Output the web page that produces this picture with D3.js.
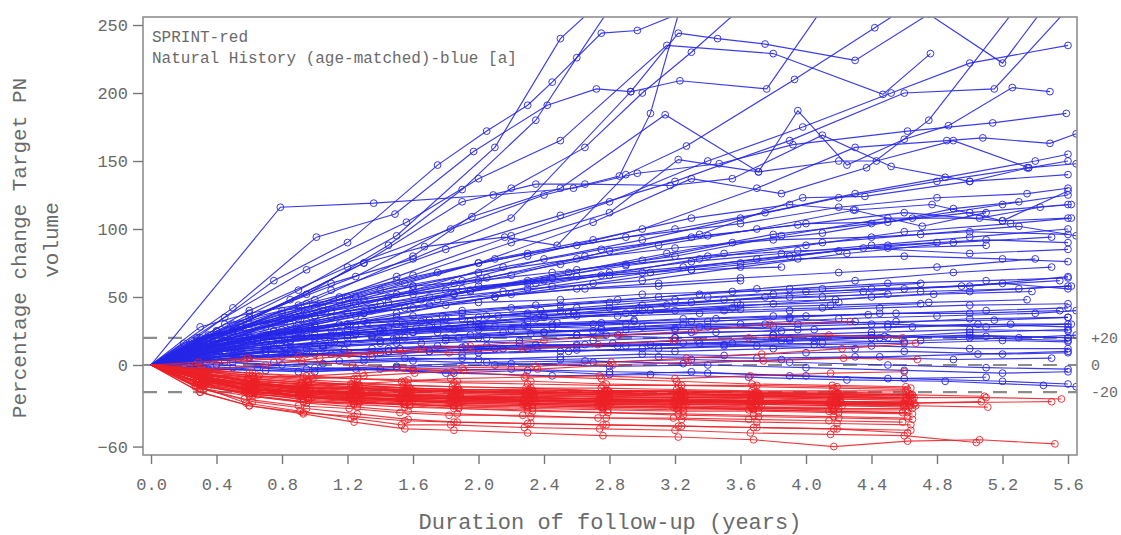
<!DOCTYPE html>
<html><head><meta charset="utf-8">
<script src="https://cdn.jsdelivr.net/npm/d3@7"></script>
<style>
body{margin:0;background:#fff}
text{font-family:"Liberation Mono","Courier New",monospace;fill:#6a6a6a}
</style>
</head><body>
<svg id="c" width="1121" height="535"></svg>
<script>
// ---------- tick labels ----------
const xTicks = [0,0.4,0.8,1.2,1.6,2.0,2.4,2.8,3.2,3.6,4.0,4.4,4.8,5.2,5.6];
const yTicks = [250,200,150,100,50,0,-60];
const refValues = [20,0,-20];
const refLabels = ["+20","0","-20"];
const legendLines = ["SPRINT-red","Natural History (age-matched)-blue [a]"];

// ---------- Natural history (blue): fast growers ----------
const blueFast = [
 [[0,0],[0.28,20],[0.75,62],[1.2,90],[1.75,147],[2.05,172],[2.3,191],[2.45,208],[2.75,244],[2.97,246],[3.3,262]],
 [[0,0],[0.5,42],[1.01,94],[1.49,111],[1.97,157],[2.42,191],[2.72,203],[2.93,201],[3.22,244],[3.46,240],[3.75,236],[4.3,224],[4.75,258],[5.2,222],[5.45,262]],
 [[0,0],[0.79,116],[1.36,119],[2.09,125],[2.58,130],[2.97,141],[3.47,148],[3.92,162],[4.62,172],[5.14,178],[5.59,185]],
 [[0,0],[0.6,40],[1.2,72],[1.83,100],[2.4,125],[2.86,139],[3.05,185],[3.23,262]],
 [[0,0],[0.45,35],[0.95,70],[1.56,105],[2.0,137],[2.5,165],[3.15,235],[3.8,229],[4.47,199],[4.76,229]],
 [[0,0],[0.4,25],[0.9,55],[1.5,95],[2.1,160],[2.5,240],[2.7,262]],
 [[0,0],[0.3,15],[0.85,48],[1.3,75],[1.67,87],[2.16,94],[2.48,88],[2.9,140],[3.27,161],[3.93,210],[4.42,248],[4.6,262]],
 [[0,0],[0.5,30],[1.1,60],[1.6,78],[2.2,108],[2.93,201],[3.23,209],[3.76,203],[4.1,262]],
 [[0,0],[0.6,35],[1.25,65],[1.96,109],[2.5,130],[3.14,184],[3.71,142],[3.95,187],[4.25,147],[4.6,166],[4.87,176],[5.26,204],[5.49,201]],
 [[0,0],[0.35,18],[0.9,40],[1.5,65],[2.2,95],[2.8,120],[3.4,150],[3.98,175],[4.52,200],[5.0,222],[5.6,235]],
 [[0,0],[0.45,22],[1.1,55],[1.8,85],[2.5,110],[3.2,135],[3.9,165],[4.6,200],[5.15,203],[5.6,262]],
 [[0,0],[0.3,12],[0.9,30],[1.6,55],[2.3,80],[3.0,100],[3.7,130],[4.3,160],[4.86,165],[5.08,167],[5.49,163],[5.65,170]],
 [[0,0],[0.5,25],[1.2,50],[2.0,75],[2.7,105],[3.3,137],[3.85,126],[4.37,145],[4.75,180],[5.28,262]],
 [[0,0],[0.4,22],[1.0,48],[1.6,80],[2.2,130],[2.65,160],[3.0,200],[3.3,230],[3.6,262]],
 [[0,0],[0.55,30],[1.3,75],[1.9,120],[2.35,133],[2.65,133],[3.17,132],[3.55,137],[4.1,169],[4.52,146],[5.0,135],[5.36,145]],
 [[0,0],[0.35,20],[0.95,52],[1.45,88],[1.9,129],[2.35,180],[2.6,226],[2.8,262]]
];

// ---------- Natural history (blue): intermediate growers ----------
const blueMid = [
 [[0,0],[0.35,15],[0.8,32],[1.3,48],[1.9,62],[2.4,78],[3.0,92],[3.6,108],[4.2,123],[4.8,135],[5.35,145],[5.65,148]],
 [[0,0],[0.25,10],[0.7,28],[1.25,45],[1.85,60],[2.5,74],[3.1,88],[3.7,100],[4.3,114],[4.77,118],[5.2,106],[5.6,128]],
 [[0,0],[0.5,22],[1.05,40],[1.6,52],[2.2,66],[2.8,84],[3.35,96],[3.98,123],[4.36,124],[5.0,135],[5.6,140]],
 [[0,0],[0.3,12],[0.75,25],[1.3,38],[1.95,55],[2.6,70],[3.2,80],[3.85,95],[4.5,108],[5.06,108],[5.43,116],[5.62,118]],
 [[0,0],[0.4,18],[0.95,38],[1.55,60],[2.1,78],[2.7,92],[3.3,108],[3.9,118],[4.29,114],[4.71,102],[5.1,112]],
 [[0,0],[0.2,8],[0.6,20],[1.1,35],[1.7,50],[2.3,62],[2.9,73],[3.5,82],[4.1,90],[4.7,96],[5.3,102],[5.65,95]],
 [[0,0],[0.45,20],[1.0,42],[1.6,66],[2.2,90],[2.8,112],[3.22,151],[3.71,142],[4.2,150],[4.43,150],[4.9,165],[5.36,145],[5.6,150]],
 [[0,0],[0.3,14],[0.85,30],[1.4,45],[2.0,58],[2.6,65],[3.25,72],[3.9,80],[4.5,88],[5.1,92],[5.6,90]],
 [[0,0],[0.55,28],[1.15,50],[1.75,68],[2.3,82],[2.9,94],[3.6,104],[4.2,116],[4.8,123],[5.35,126],[5.6,130]],
 [[0,0],[0.35,15],[0.9,34],[1.45,50],[2.05,64],[2.65,80],[3.3,94],[3.95,103],[4.6,112],[5.2,106],[5.6,108]],
 [[0,0],[0.25,6],[0.65,18],[1.2,30],[1.8,44],[2.45,58],[3.05,68],[3.7,78],[4.35,86],[5.0,82],[5.6,85]],
 [[0,0],[0.4,20],[1.0,36],[1.65,48],[2.3,56],[3.0,62],[3.6,72],[4.25,82],[4.9,90],[5.5,94]],
 [[0,0],[0.3,10],[0.8,26],[1.35,40],[1.95,54],[2.55,68],[3.15,82],[3.8,96],[4.4,104],[5.0,112],[5.6,118]],
 [[0,0],[0.5,25],[1.05,42],[1.6,58],[2.15,72],[2.75,85],[3.4,95],[4.0,104],[4.5,105],[4.9,115],[5.3,120]],
 [[0,0],[0.35,12],[0.9,26],[1.5,38],[2.1,50],[2.7,60],[3.3,70],[3.95,78],[4.6,80],[5.2,78],[5.6,76]],
 [[0,0],[0.6,30],[1.2,45],[1.8,55],[2.4,62],[3.0,68],[3.6,75],[4.2,84],[4.8,90]],
 [[0,0],[0.28,8],[0.7,22],[1.25,36],[1.85,52],[2.45,64],[3.0,77],[3.55,90],[4.1,97],[4.65,108],[5.2,118],[5.6,125]],
 [[0,0],[0.45,16],[1.0,30],[1.55,42],[2.15,54],[2.75,66],[3.35,78],[4.0,88],[4.6,98],[5.25,104],[5.62,108]],
 [[0,0],[0.4,25],[0.95,45],[1.5,62],[2.0,75],[2.6,88],[3.2,100],[3.75,112],[4.3,126],[4.85,138],[5.4,150],[5.6,155]],
 [[0,0],[0.3,18],[0.8,38],[1.4,55],[2.0,68],[2.6,78],[3.2,86],[3.8,92],[4.4,94],[5.0,98],[5.6,96]]
];

// ---------- Natural history (blue): slow growers / stable ----------
const blueSlow = [
 [[0,0],[0.3,10],[0.8,18],[1.4,25],[2.0,30],[2.6,36],[3.2,40],[3.8,45],[4.4,50],[5.0,54],[5.6,58]],
 [[0,0],[0.25,5],[0.7,12],[1.2,16],[1.8,20],[2.4,24],[3.0,28],[3.6,30],[4.2,34],[4.8,36],[5.4,38],[5.65,40]],
 [[0,0],[0.4,14],[0.95,22],[1.55,26],[2.1,28],[2.7,30],[3.3,32],[3.9,34],[4.5,30],[5.1,28],[5.6,30]],
 [[0,0],[0.2,3],[0.6,6],[1.1,8],[1.7,10],[2.3,12],[2.9,14],[3.5,15],[4.1,16],[4.7,18],[5.3,20],[5.65,22]],
 [[0,0],[0.35,8],[0.85,10],[1.45,12],[2.05,14],[2.65,15],[3.25,16],[3.85,18],[4.45,20],[5.0,22],[5.6,20]],
 [[0,0],[0.3,4],[0.75,2],[1.3,3],[1.9,5],[2.5,4],[3.1,6],[3.7,5],[4.3,6],[4.9,4],[5.5,5]],
 [[0,0],[0.45,2],[1.0,-2],[1.6,-4],[2.2,-3],[2.8,-5],[3.4,-6],[4.0,-8],[4.6,-10],[5.2,-12],[5.6,-14]],
 [[0,0],[0.3,6],[0.8,14],[1.35,22],[1.95,30],[2.55,38],[3.15,44],[3.75,50],[4.35,54],[4.95,58],[5.55,62]],
 [[0,0],[0.25,10],[0.65,18],[1.15,24],[1.75,30],[2.35,34],[2.95,38],[3.55,42],[4.15,44],[4.75,46],[5.35,48]],
 [[0,0],[0.5,8],[1.05,14],[1.65,16],[2.25,18],[2.85,22],[3.45,24],[4.05,26],[4.65,28],[5.25,30],[5.62,30]],
 [[0,0],[0.35,-3],[0.9,-5],[1.5,-2],[2.1,0],[2.7,2],[3.3,4],[3.9,2],[4.5,0],[5.1,-2],[5.6,-3]],
 [[0,0],[0.4,12],[0.9,20],[1.45,28],[2.0,35],[2.6,42],[3.2,48],[3.8,52],[4.4,56],[5.0,58],[5.6,65]],
 [[0,0],[0.3,5],[0.8,8],[1.35,6],[1.9,8],[2.5,10],[3.1,12],[3.7,14],[4.3,12]],
 [[0,0],[0.55,15],[1.1,22],[1.7,28],[2.3,32],[2.9,38],[3.5,40],[4.1,42],[4.7,45]],
 [[0,0],[0.2,6],[0.55,12],[1.0,16],[1.55,20],[2.15,24],[2.75,26],[3.35,28],[3.95,30],[4.55,32],[5.15,33],[5.6,35]],
 [[0,0],[0.4,0],[0.95,-3],[1.5,-1],[2.05,2],[2.65,3],[3.25,1],[3.85,4],[4.45,6],[5.05,8],[5.6,10]],
 [[0,0],[0.3,16],[0.75,25],[1.3,32],[1.9,38],[2.5,44],[3.1,50],[3.7,56],[4.3,62],[4.9,68],[5.5,72]],
 [[0,0],[0.35,9],[0.85,15],[1.4,18],[2.0,20],[2.6,22],[3.2,20],[3.8,22],[4.4,24],[5.0,26],[5.6,25]],
 [[0,0],[0.25,-2],[0.7,-4],[1.25,-3],[1.85,-6],[2.45,-8],[3.05,-7],[3.65,-9],[4.25,-11],[4.85,-12],[5.45,-15],[5.65,-16]],
 [[0,0],[0.45,18],[1.0,28],[1.6,36],[2.2,42],[2.8,46],[3.4,50],[4.0,54],[4.6,56],[5.2,60],[5.6,56]],
 [[0,0],[0.3,3],[0.8,6],[1.4,9],[2.0,12],[2.6,15],[3.2,18],[3.8,20],[4.4,22],[5.0,20],[5.6,18]],
 [[0,0],[0.6,20],[1.2,30],[1.8,34],[2.4,36],[3.0,40],[3.6,44],[4.2,46]],
 [[0,0],[0.35,4],[0.9,8],[1.45,10],[2.0,9],[2.6,11],[3.2,10],[3.8,12],[4.4,14],[5.0,12],[5.6,12]],
 [[0,0],[0.5,-2],[1.05,1],[1.6,3],[2.2,1],[2.8,-1],[3.4,0],[4.0,-2],[4.6,-4],[5.2,-6],[5.6,-5]],
 [[0,0],[0.28,12],[0.72,22],[1.22,30],[1.78,36],[2.38,40],[2.98,42],[3.58,46],[4.18,48],[4.78,52],[5.38,54]],
 [[0,0],[0.4,6],[0.95,12],[1.5,16],[2.05,20],[2.6,22],[3.2,26],[3.8,28],[4.4,30],[5.0,34],[5.6,35]]
];

// ---------- Natural history (blue): frequently measured, low change ----------
const blueDense = [
 [[0,0],[0.22,8],[0.5,14],[0.78,20],[1.1,26],[1.5,30],[1.9,34],[2.3,38],[2.8,42],[3.3,46],[3.9,50],[4.5,52]],
 [[0,0],[0.3,20],[0.6,26],[0.95,32],[1.3,38],[1.7,44],[2.1,50],[2.6,56],[3.1,60],[3.6,64],[4.2,68],[4.8,72],[5.4,78]],
 [[0,0],[0.2,4],[0.45,10],[0.75,12],[1.05,14],[1.4,16],[1.8,18],[2.25,16],[2.7,18],[3.2,20],[3.8,22],[4.4,20],[5.0,24],[5.6,26]],
 [[0,0],[0.35,22],[0.65,30],[1.0,36],[1.35,42],[1.75,48],[2.2,52],[2.65,56],[3.1,58],[3.6,62]],
 [[0,0],[0.25,12],[0.55,18],[0.9,24],[1.25,28],[1.65,32],[2.05,36],[2.5,40],[3.0,44],[3.5,48],[4.1,50],[4.7,54],[5.3,56],[5.62,58]],
 [[0,0],[0.4,6],[0.7,10],[1.0,8],[1.35,12],[1.75,14],[2.15,12],[2.6,14],[3.05,15],[3.55,16],[4.05,18],[4.6,17]],
 [[0,0],[0.3,28],[0.6,38],[0.9,44],[1.25,50],[1.6,58],[2.0,62],[2.45,68],[2.9,74],[3.4,80],[3.95,84],[4.5,86],[5.1,88]],
 [[0,0],[0.2,-2],[0.5,2],[0.8,0],[1.15,3],[1.55,5],[2.0,4],[2.5,6],[3.0,8],[3.5,7],[4.0,9],[4.6,10],[5.2,8],[5.6,9]],
 [[0,0],[0.28,15],[0.58,20],[0.88,24],[1.2,26],[1.55,30],[1.95,32],[2.4,35],[2.85,36],[3.35,38],[3.9,40],[4.45,42],[5.0,44],[5.6,45]],
 [[0,0],[0.45,30],[0.8,40],[1.15,46],[1.5,52],[1.9,56],[2.35,60],[2.8,66],[3.3,70],[3.85,72]],
 [[0,0],[0.25,8],[0.55,12],[0.85,18],[1.2,22],[1.6,24],[2.0,28],[2.45,30],[2.95,32],[3.45,34],[4.0,36],[4.55,38],[5.1,40],[5.6,42]],
 [[0,0],[0.35,-4],[0.65,-2],[1.0,-5],[1.4,-3],[1.8,-6],[2.3,-4],[2.8,-7],[3.3,-5],[3.9,-8],[4.5,-10],[5.1,-9]],
 [[0,0],[0.3,12],[0.65,18],[1.0,22],[1.4,25],[1.85,26],[2.3,28],[2.75,27],[3.25,30],[3.75,30],[4.3,32]],
 [[0,0],[0.2,16],[0.5,25],[0.8,34],[1.1,40],[1.45,46],[1.85,52],[2.3,60],[2.8,68],[3.3,76],[3.85,82],[4.4,88],[5.0,94],[5.6,100]],
 [[0,0],[0.4,10],[0.75,14],[1.1,16],[1.5,20],[1.95,22],[2.4,24],[2.9,26],[3.4,28],[3.95,26],[4.5,28],[5.05,30],[5.6,28]],
 [[0,0],[0.3,2],[0.6,5],[0.95,8],[1.3,6],[1.7,10],[2.1,12],[2.55,10],[3.0,12],[3.5,14],[4.05,15],[4.6,16],[5.2,18],[5.6,17]],
 [[0,0],[0.25,18],[0.55,28],[0.85,35],[1.2,38],[1.6,42],[2.0,46],[2.5,48],[3.0,52],[3.55,54],[4.1,56],[4.7,60]],
 [[0,0],[0.5,12],[0.85,18],[1.2,20],[1.6,24],[2.0,26],[2.45,28],[2.9,30],[3.4,32],[3.9,35],[4.45,38],[5.0,38],[5.55,40]],
 [[0,0],[0.22,10],[0.48,16],[0.8,22],[1.15,30],[1.5,35],[1.9,40],[2.35,44],[2.85,48],[3.35,52],[3.9,56],[4.5,60],[5.1,62],[5.6,64]],
 [[0,0],[0.35,5],[0.7,9],[1.05,12],[1.45,10],[1.9,13],[2.35,15],[2.85,14],[3.35,16],[3.9,18],[4.5,20],[5.1,21],[5.6,20]],
 [[0,0],[0.18,6],[0.42,11],[0.7,15],[1.0,19],[1.35,21],[1.75,24],[2.2,26],[2.7,25],[3.2,27]],
 [[0,0],[0.26,3],[0.52,8],[0.82,13],[1.12,17],[1.48,19],[1.88,20],[2.32,23],[2.78,22],[3.3,24],[3.85,25]],
 [[0,0],[0.33,14],[0.62,19],[0.92,21],[1.25,23],[1.62,27],[2.02,29],[2.48,31],[2.95,33]],
 [[0,0],[0.24,1],[0.55,6],[0.86,9],[1.18,11],[1.52,12],[1.92,14],[2.36,13],[2.82,16],[3.34,18],[3.9,19],[4.48,21]],
 [[0,0],[0.38,17],[0.68,22],[0.98,27],[1.32,31],[1.7,33],[2.12,36],[2.58,38],[3.05,40],[3.6,41]],
 [[0,0],[0.2,9],[0.46,12],[0.74,17],[1.06,20],[1.42,24],[1.82,27],[2.28,29],[2.75,31],[3.25,34],[3.8,36],[4.38,37]]
];

// ---------- SPRINT (red): visit schedule, per-patient offset, values ----------
const redVisits = [0,0.30,0.60,0.93,1.24,1.55,1.85,2.30,2.76,3.22,3.68,4.17,4.62,5.06,5.52];
const redShift = [0.01,-0.02,0.03,0,-0.01,0.02,-0.03,0.04,0.01,0,-0.02,0.03,0.02,-0.01,0,0.05,0.1,-0.02,0.01,0.03,-0.01,0,0.02,-0.03,0.01,0.04,-0.02,0.03,0,0.02,-0.01,0.01,0.03,0.06,-0.02,0,0.02,-0.01,
  0.02,-0.01,0.04,-0.03,0.01,0.03,-0.02,0,0.05,-0.01,0.02,0.01,-0.03,0.04];
const redValues = [
 [0,-8,-15,-19,-21,-22,-23,-24,-25,-25,-26,-27,-27],
 [0,-12,-17,-21,-23,-25,-24,-26,-27,-28,-27,-29,-30],
 [0,-6,-12,-15,-17,-19,-19,-21,-22,-21,-23,-24,-25],
 [0,-14,-21,-25,-27,-29,-30,-31,-32,-33,-33,-34,-35],
 [0,-10,-19,-23,-25,-27,-27,-28,-29,-30,-31,-31],
 [0,-4,-8,-11,-13,-15,-16,-17,-19,-19,-20,-21,-22],
 [0,-16,-25,-30,-32,-35,-37,-37,-39,-39,-40,-41,-42],
 [0,-8,-13,-17,-19,-18,-20,-21,-20,-22,-23,-23,-24,-24,-25],
 [0,-11,-16,-20,-22,-23,-24,-25,-25,-26,-27,-28,-28,-27],
 [0,-20,-30,-36,-42,-47,-48,-50,-52,-53,-55,-60,-56,-55,-58],
 [0,-15,-28,-34,-39,-44,-44,-46,-47,-48,-50,-51,-52,-57],
 [0,-5,-10,-13,-15,-17,-18,-19,-19,-20,-21,-21,-22],
 [0,-9,-14,-18,-21,-24,-25,-26,-27,-27,-28,-28],
 [0,-7,-11,-14,-16,-18,-19,-20,-21,-22,-22,-23,-24],
 [0,-15,-22,-27,-29,-31,-32,-33,-35,-36,-37,-38,-39],
 [0,-7,-9,-8,-6,-3,-2,-1,2,5,8,12,16],
 [0,-3,0,5,8,12,14,18,22,25,30,32],
 [0,-10,-14,-15,-14,-12,-10,-9,-8,-10,-8,-6,-5],
 [0,-10,-15,-17,-17,-19,-19,-20,-21,-21,-22,-22,-23],
 [0,-12,-19,-24,-27,-30,-32,-34,-35,-37,-38,-39,-40],
 [0,-6,-10,-13,-14,-15,-16,-17,-17,-18,-19,-19,-19],
 [0,-17,-23,-27,-28,-29,-30,-30,-31,-31,-32,-32],
 [0,-4,-6,-8,-10,-11,-12,-12,-14,-15,-15,-16,-17],
 [0,-9,-17,-22,-24,-26,-28,-29,-30,-31,-33,-34,-35],
 [0,-11,-18,-21,-24,-25,-26,-27,-28,-29,-29,-30,-31],
 [0,-7,-14,-19,-21,-23,-24,-24,-25,-26,-27,-27,-28],
 [0,-13,-19,-22,-24,-26,-27,-28,-29,-29,-30],
 [0,-5,-9,-12,-15,-17,-18,-19,-19,-20,-21,-22,-22,-23],
 [0,-20,-30,-35,-38,-41,-42,-43,-44,-45,-46,-47,-50],
 [0,-8,-16,-21,-23,-24,-25,-26,-27,-27,-28,-29,-29],
 [0,2,5,3,0,-2,-5,-8,-10,-12,-14,-15,-16],
 [0,-10,-14,-16,-17,-18,-19,-20,-20,-21,-22,-22,-22],
 [0,-14,-21,-26,-28,-29,-31,-32,-33,-34,-34,-35,-36],
 [0,-5,-8,-10,-8,-6,-4,-3,0,2,3,5,4],
 [0,-12,-17,-19,-21,-22,-23,-24,-25,-25,-26,-27,-28,null,-27],
 [0,-6,-12,-17,-20,-22,-23,-24,-25,-26,-26,-27],
 [0,-18,-27,-32,-36,-40,-42,-43,-44,-45,-46,-47,-48],
 [0,-8,-17,-23,-26,-28,-29,-30,-31,-32,-32,-33,-33],
 [0,-9,-13,-16,-18,-19,-20,-21,-22,-23,-23,-24,-24],
 [0,-13,-18,-20,-21,-22,-22,-23,-23,-24,-24,-25,-25],
 [0,-11,-16,-19,-20,-21,-23,-23,-24,-24,-25,-26],
 [0,-15,-20,-23,-24,-25,-26,-26,-27,-27,-28,-28,-29],
 [0,-7,-12,-14,-16,-17,-18,-18,-19,-19,-20,-20,-21],
 [0,-12,-20,-24,-26,-27,-28,-29,-30,-31,-31,-32,-32],
 [0,-10,-17,-20,-22,-23,-24,-25,-26,-26,-27],
 [0,-3,-6,-9,-10,-12,-13,-14,-15,-15,-16,-17,-18],
 [0,-16,-22,-24,-25,-26,-27,-27,-28,-28,-29,-30,-30,-31],
 [0,-8,-14,-18,-20,-20,-21,-22,-23,-24,-24,-25,-26],
 [0,-14,-23,-28,-31,-34,-36,-38,-39,-40,-42,-43,-44],
 [0,-10,-14,-17,-18,-20,-21,-22,-22,-23,-23,-24],
 [0,0,3,6,8,10,9,12,15,18,20,22,20],
 [0,-12,-18,-21,-22,-24,-25,-26,-26,-27,-28,-28,-29]
];

// ---------- layout ----------
const W = 1121, H = 535;
const frame = {left:143, right:1077, top:17, bottom:455};
const x = d3.scaleLinear().domain([-0.049, 5.655]).range([frame.left, frame.right]);
const y = d3.scaleLinear().domain([-66.2, 255.9]).range([frame.bottom, frame.top]);

const svg = d3.select("#c");
svg.append("rect").attr("width",W).attr("height",H).attr("fill","#fff");

svg.append("defs").append("clipPath").attr("id","clip")
  .append("rect").attr("x",frame.left).attr("y",frame.top)
  .attr("width",frame.right-frame.left).attr("height",frame.bottom-frame.top);

const plot = svg.append("g").attr("clip-path","url(#clip)");

// reference dashed lines
plot.selectAll("line.ref").data(refValues).join("line")
  .attr("class","ref")
  .attr("x1",frame.left).attr("x2",frame.right)
  .attr("y1",d=>y(d)).attr("y2",d=>y(d))
  .attr("stroke","#8c8c8c").attr("stroke-width",2.2)
  .attr("stroke-dasharray","14,11");

const line = d3.line().x(d=>x(d[0])).y(d=>y(d[1]));

function drawGroup(seriesList, color, cls, op){
  const g = plot.append("g").attr("class",cls);
  g.selectAll("path").data(seriesList).join("path")
    .attr("d", line)
    .attr("fill","none").attr("stroke",color)
    .attr("stroke-width",1.15).attr("stroke-opacity",op);
  seriesList.forEach(s=>{
    g.append("g").selectAll("circle").data(s.slice(1)).join("circle")
      .attr("cx",d=>x(d[0])).attr("cy",d=>y(d[1])).attr("r",3.4)
      .attr("fill","none").attr("stroke",color)
      .attr("stroke-width",1).attr("stroke-opacity",op);
  });
}

const blueAll = blueFast.concat(blueMid, blueSlow, blueDense);
drawGroup(blueAll, "#2626e8", "blue", 0.9);

const redSeries = redValues.map((vals,i)=>{
  const pts = [];
  vals.forEach((v,k)=>{
    if(v===null) return;
    pts.push([k===0 ? 0 : redVisits[k]+redShift[i], v]);
  });
  return pts;
});
drawGroup(redSeries, "#ec2027", "red", 0.88);

// frame
svg.append("rect").attr("x",frame.left).attr("y",frame.top)
  .attr("width",frame.right-frame.left).attr("height",frame.bottom-frame.top)
  .attr("fill","none").attr("stroke","#8f8f8f").attr("stroke-width",1.6);

// axes
const xAxis = d3.axisBottom(x).tickValues(xTicks).tickFormat(d3.format(".1f")).tickSize(9).tickPadding(14);
const gx = svg.append("g").attr("transform",`translate(0,${frame.bottom})`).call(xAxis);
gx.select(".domain").remove();
gx.selectAll("line").attr("stroke","#777").attr("stroke-width",1.4);
gx.selectAll("text").attr("font-size",17).attr("fill","#6a6a6a")
  .style("font-family",'"Liberation Mono",monospace');

const yAxis = d3.axisLeft(y).tickValues(yTicks).tickFormat(d3.format("d")).tickSize(10).tickPadding(5);
const gy = svg.append("g").attr("transform",`translate(${frame.left},0)`).call(yAxis);
gy.select(".domain").remove();
gy.selectAll("line").attr("stroke","#777").attr("stroke-width",1.4);
gy.selectAll("text").attr("font-size",17).attr("fill","#6a6a6a")
  .style("font-family",'"Liberation Mono",monospace');

// right-side reference labels
svg.selectAll("text.reflab").data(refValues).join("text")
  .attr("class","reflab")
  .attr("x",frame.right+14).attr("y",d=>y(d)+5)
  .attr("font-size",15).text((d,i)=>refLabels[i]);

// legend text
svg.selectAll("text.leg").data(legendLines).join("text")
  .attr("class","leg")
  .attr("x",152).attr("y",(d,i)=>42+i*21)
  .attr("font-size",16).attr("fill","#555").text(d=>d);

// axis titles
svg.append("text").attr("x",(frame.left+frame.right)/2).attr("y",529)
  .attr("text-anchor","middle").attr("font-size",22)
  .text("Duration of follow-up (years)");

svg.append("text").attr("transform","translate(26,248) rotate(-90)")
  .attr("text-anchor","middle").attr("font-size",21)
  .text("Percentage change Target PN");
svg.append("text").attr("transform","translate(58,240) rotate(-90)")
  .attr("text-anchor","middle").attr("font-size",21)
  .text("volume");
</script>
</body></html>
